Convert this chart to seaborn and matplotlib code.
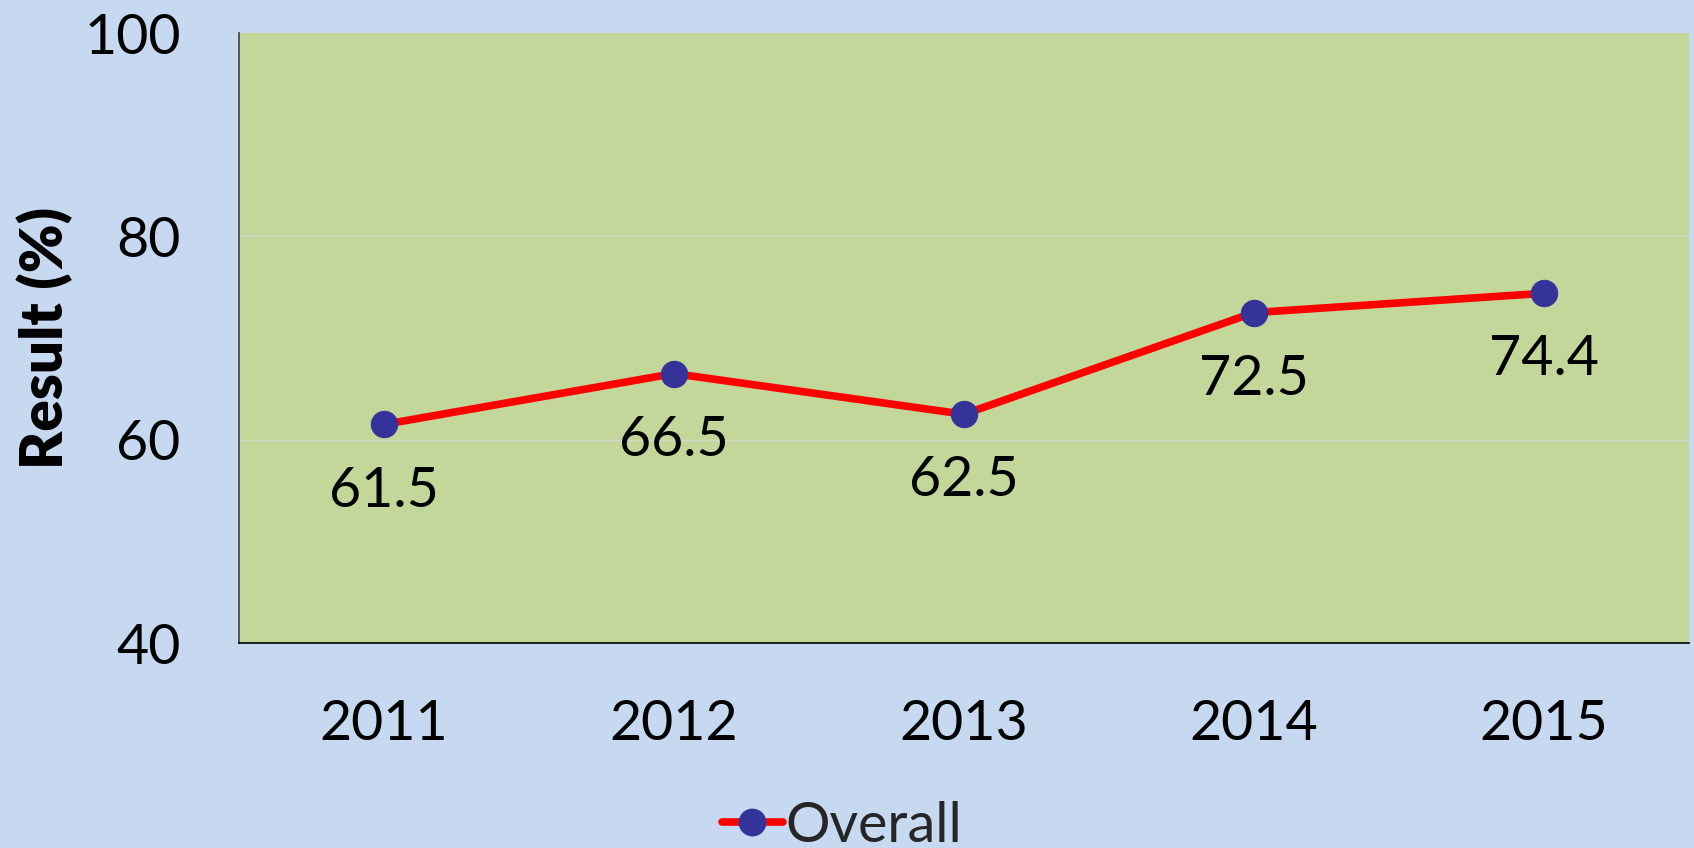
import matplotlib
matplotlib.use("Agg")
import matplotlib.pyplot as plt
import seaborn as sns
import numpy as np
from matplotlib.lines import Line2D

years = ["2011", "2012", "2013", "2014", "2015"]
overall = [61.5, 66.5, 62.5, 72.5, 74.4]
series_name = "Overall"
y_ticks = [40, 60, 80, 100]

sns.set_theme(style="white")
plt.rcParams['font.family'] = ['Lato', 'DejaVu Sans']

bg = "#C6D9F0"
plot_bg = "#C4D79B"
line_col = "#FF0000"
marker_col = "#333399"

fig = plt.figure(figsize=(16.94, 8.48), dpi=100, facecolor=bg)
ax = fig.add_axes([239/1694, 1-643/848, (1689-239)/1694, (643-33)/848])
ax.set_facecolor(plot_bg)

idx = np.arange(len(years))
sns.lineplot(x=idx, y=overall, ax=ax, color=line_col, linewidth=5.5,
             marker='o', markersize=19, markerfacecolor=marker_col,
             markeredgecolor=marker_col, label=series_name, legend=False,
             zorder=3)

for i, v in zip(idx, overall):
    ax.annotate(f"{v}", (i, v), xytext=(0, -48), textcoords='offset points',
                ha='center', va='center', fontsize=40, color='black')

ax.set_xlim(-0.5, len(years) - 0.5)
ax.set_ylim(40, 100)
ax.set_xticks(idx)
ax.set_xticklabels(years)
ax.set_yticks(y_ticks)
ax.tick_params(axis='both', labelsize=40, length=0, colors='black')
ax.tick_params(axis='x', pad=40)
ax.tick_params(axis='y', pad=42)

for y in [60, 80]:
    ax.axhline(y, color='#D4D8CC', linewidth=1.0, zorder=1)

for s in ['top', 'right']:
    ax.spines[s].set_visible(False)
ax.spines['left'].set_color('#404040')
ax.spines['left'].set_linewidth(1.2)
ax.spines['bottom'].set_color('black')
ax.spines['bottom'].set_linewidth(1.2)

ax.set_xlabel("")
ax.set_ylabel("Result (%)", fontsize=42, fontweight='heavy', color='black')
ax.yaxis.set_label_coords(-0.134, 0.5)
ax.yaxis.label.set_va('center')

handle = Line2D([0], [0], color=line_col, linewidth=5.5, marker='o', markersize=19,
                markerfacecolor=marker_col, markeredgecolor=marker_col)
fig.legend([handle], [series_name], loc='center', bbox_to_anchor=(0.497, 1-826/848),
           frameon=False, fontsize=40, handlelength=1.1, handletextpad=0.05,
           borderpad=0)

fig.savefig("out.png", dpi=100, facecolor=bg)
